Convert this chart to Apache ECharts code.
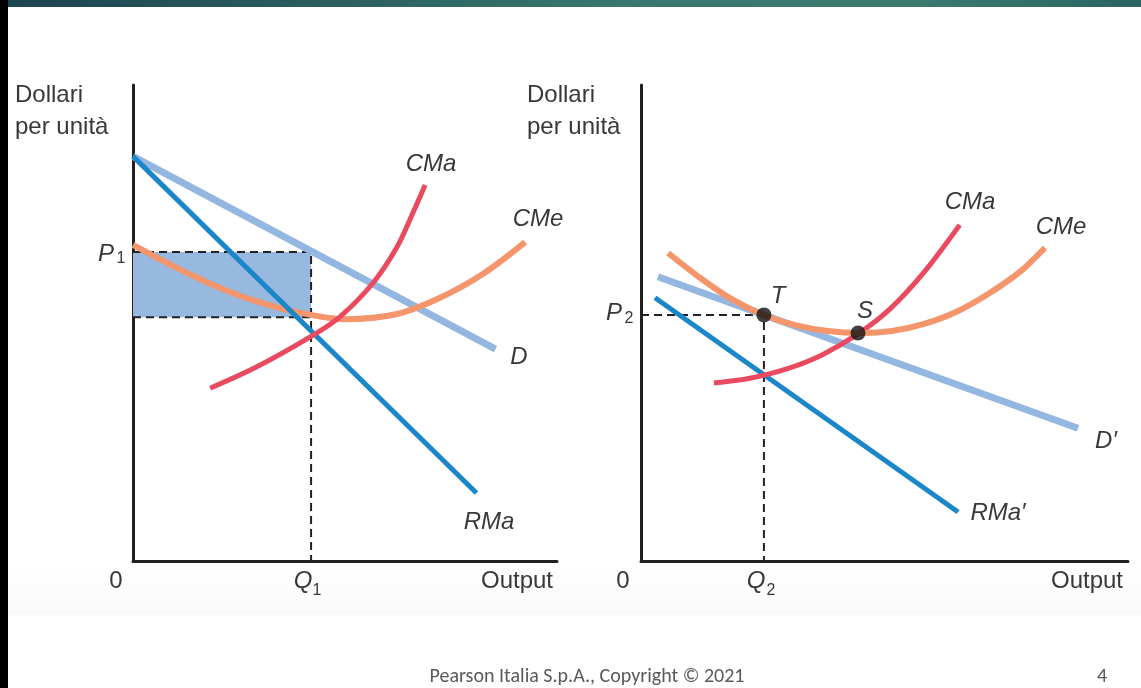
<!DOCTYPE html>
<html>
<head>
<meta charset="utf-8">
<script src="https://cdn.jsdelivr.net/npm/echarts@6/dist/echarts.min.js"></script>
<style>
html,body{margin:0;padding:0;background:#fff;}
#chart{width:1141px;height:688px;}
</style>
</head>
<body>
<div id="chart"></div>
<script>
// ---------- DATA (units: output on x, dollars per unit on y) ----------
const leftD   = [[0, 8.5], [8.55, 4.45]];
const leftRMa = [[0, 8.5], [8.1, 1.43]];
const leftCMa = [[1.82,3.63],[2.92,4.08],[4.22,4.73],[4.88,5.13],[5.66,5.84],[6.23,6.6],[6.6,7.31],[6.89,7.9]];
const leftCMe = [[0,6.64],[0.94,6.20],[1.89,5.80],[2.83,5.48],[3.77,5.25],[5.0,5.08],[6.23,5.19],[7.24,5.53],[8.25,6.03],[9.25,6.70]];
const Q1 = 4.2, P1 = 6.49, AC1 = 5.12;

const rightD   = [[0.4,5.97],[10.31,2.79]];
const rightRMa = [[0.33,5.53],[7.48,1.03]];
const rightCMe = [[0.64,6.47],[1.39,5.95],[2.14,5.50],[2.9,5.17],[3.66,4.95],[4.41,4.83],[5.17,4.79],[5.92,4.83],[6.68,4.98],[7.43,5.23],[8.19,5.61],[8.96,6.09],[9.53,6.58]];
const rightCMa = [[1.72,3.74],[2.57,3.84],[3.42,4.03],[4.27,4.33],[5.12,4.77],[5.87,5.29],[6.70,6.09],[7.52,7.06]];
const Q2 = 2.9, P2 = 5.17;
const pointT = [2.9, 5.17], pointS = [5.12, 4.79];

const yAxisTitle = ['Dollari', 'per unità'];
const xAxisTitle = 'Output';
const originLabel = '0';
const curveLabels = { cma: 'CMa', cme: 'CMe', d: 'D', rma: 'RMa', d2: 'D′', rma2: 'RMa′' };
const footerText = 'Pearson Italia S.p.A., Copyright © 2021';
const pageNumber = '4';

// ---------- STYLE ----------
const C = { d:'#93b7e0', rma:'#1b86c8', cma:'#ea4a5f', cme:'#f5956b', rect:'#97b8df', axis:'#231f20', text:'#383838' };
const FONT = '"Liberation Sans", Arial, Helvetica, sans-serif';
const FOOT_FONT = 'Carlito, Calibri, "Open Sans", sans-serif';

const chart = echarts.init(document.getElementById('chart'));

function ax(gridIndex, max){
  return { type:'value', gridIndex, min:0, max, axisLine:{show:true, onZero:false, lineStyle:{color:C.axis, width:3}},
    axisTick:{show:false}, axisLabel:{show:false}, splitLine:{show:false} };
}
function line(name, data, xi, color, width, smooth, z){
  return { type:'line', name, data, xAxisIndex:xi, yAxisIndex:xi, symbol:'none', smooth: smooth ? 0.33 : false,
    lineStyle:{color, width, cap:'butt'}, z: z||3, silent:true, clip:false };
}
function dashed(data, xi){
  return { type:'line', data, xAxisIndex:xi, yAxisIndex:xi, symbol:'none', lineStyle:{color:'#222', width:2, type:[8,5]}, z:2, silent:true };
}
function txt(x, y, text, opt){
  opt = opt || {};
  const size = opt.size || 24;
  return { type:'text', z:100, silent:true, style:{ text, x, y,
    font: (opt.italic ? 'italic ' : '') + size + 'px ' + (opt.family || FONT),
    fill: opt.color || C.text, align: opt.align || 'center', verticalAlign: 'middle',
    textAlign: opt.align || 'center', textVerticalAlign: 'middle' } };
}

const graphics = [
  { type:'rect', shape:{x:0,y:0,width:1141,height:7}, style:{ fill: new echarts.graphic.LinearGradient(0,0,1,0,[
      {offset:0,color:'#1b4450'},{offset:0.55,color:'#3a776e'},{offset:0.8,color:'#3c7a70'},{offset:1,color:'#2b6462'}]) }, z:0 },
  { type:'rect', shape:{x:0,y:0,width:8,height:688}, style:{fill:'#000'}, z:1 },
  { type:'rect', shape:{x:8,y:560,width:1133,height:55}, style:{ fill: new echarts.graphic.LinearGradient(0,0,0,1,[
      {offset:0,color:'rgba(0,0,0,0)'},{offset:1,color:'rgba(0,0,0,0.02)'}]) }, z:0 },
  // left panel texts
  txt(15, 95, yAxisTitle[0], {align:'left'}),
  txt(15, 127, yAxisTitle[1], {align:'left'}),
  txt(106, 254, 'P', {italic:true}),
  txt(121, 259, '1', {size:16}),
  txt(116, 581, originLabel),
  txt(303, 581, 'Q', {italic:true}),
  txt(317, 591, '1', {size:16}),
  txt(517, 581, xAxisTitle),
  txt(431, 164, curveLabels.cma, {italic:true}),
  txt(538, 219, curveLabels.cme, {italic:true}),
  txt(519, 357, curveLabels.d, {italic:true}),
  txt(489, 522, curveLabels.rma, {italic:true}),
  // right panel texts
  txt(527, 95, yAxisTitle[0], {align:'left'}),
  txt(527, 127, yAxisTitle[1], {align:'left'}),
  txt(614, 313, 'P', {italic:true}),
  txt(629, 319, '2', {size:16}),
  txt(623, 581, originLabel),
  txt(756, 581, 'Q', {italic:true}),
  txt(771, 591, '2', {size:16}),
  txt(1087, 581, xAxisTitle),
  txt(970, 202, curveLabels.cma, {italic:true}),
  txt(1061, 227, curveLabels.cme, {italic:true}),
  txt(1106, 441, curveLabels.d2, {italic:true}),
  txt(998, 513, curveLabels.rma2, {italic:true}),
  txt(778, 296, 'T', {italic:true}),
  txt(865, 311, 'S', {italic:true}),
  // footer
  txt(587, 677, footerText, {size:20, color:'#595959', family:FOOT_FONT}),
  txt(1102, 677, pageNumber, {size:20, color:'#595959', family:FOOT_FONT})
];

const option = {
  animation:false,
  backgroundColor:'#ffffff',
  grid:[
    {left:133, top:85, width:424, height:476, containLabel:false},
    {left:641, top:85, width:487, height:476, containLabel:false}
  ],
  xAxis:[ax(0,10), ax(1,11.49)],
  yAxis:[ax(0,10), ax(1,10)],
  series:[
    { type:'line', data:[], xAxisIndex:0, yAxisIndex:0, z:1, silent:true,
      markArea:{ silent:true, itemStyle:{color:C.rect, opacity:1}, data:[[{coord:[0,P1]},{coord:[Q1,AC1]}]] } },
    dashed([[0,P1],[Q1,P1],[Q1,0]], 0),
    dashed([[0,AC1],[Q1,AC1]], 0),
    line('D', leftD, 0, C.d, 7, false, 3),
    line('CMe', leftCMe, 0, C.cme, 6, true, 4),
    line('RMa', leftRMa, 0, C.rma, 5, false, 5),
    line('CMa', leftCMa, 0, C.cma, 5, true, 6),

    dashed([[0,P2],[Q2,P2],[Q2,0]], 1),
    line("D'", rightD, 1, C.d, 7, false, 3),
    line('RMa\'', rightRMa, 1, C.rma, 5, false, 4),
    line('CMa', rightCMa, 1, C.cma, 5, true, 5),
    line('CMe', rightCMe, 1, C.cme, 6, true, 6),
    { type:'scatter', data:[pointT, pointS], xAxisIndex:1, yAxisIndex:1, symbol:'circle', symbolSize:15,
      itemStyle:{color:'#111'}, z:10, silent:true }
  ],
  graphic: graphics
};
chart.setOption(option);
</script>
</body>
</html>
